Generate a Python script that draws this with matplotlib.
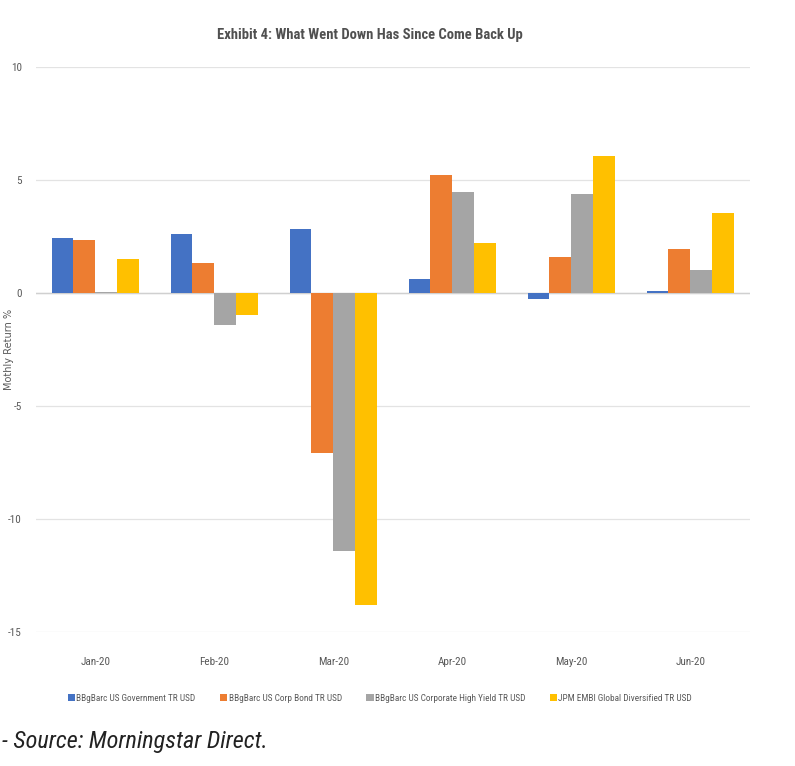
import matplotlib
matplotlib.use('Agg')
import matplotlib.pyplot as plt
import numpy as np

plt.rcParams['font.family'] = ['Roboto Condensed', 'DejaVu Sans']

months = ['Jan-20', 'Feb-20', 'Mar-20', 'Apr-20', 'May-20', 'Jun-20']
series_names = ['BBgBarc US Government TR USD',
                'BBgBarc US Corp Bond TR USD',
                'BBgBarc US Corporate High Yield TR USD',
                'JPM EMBI Global Diversified TR USD']
gov = [2.43, 2.62, 2.83, 0.62, -0.27, 0.09]
corp = [2.35, 1.33, -7.08, 5.22, 1.59, 1.95]
high_yield = [0.05, -1.42, -11.40, 4.47, 4.38, 1.02]
embi = [1.50, -0.97, -13.80, 2.21, 6.06, 3.54]
colors = ['#4472C4', '#ED7D31', '#A5A5A5', '#FFC000']
yticks = [10, 5, 0, -5, -10, -15]

fig = plt.figure(figsize=(7.95, 7.66), dpi=100)
ax = fig.add_axes([0.045, 0.175, 0.898, 0.7375])

x = np.arange(len(months))
w = 0.183
for i, vals in enumerate([gov, corp, high_yield, embi]):
    ax.bar(x + (i - 1.5) * w, vals, width=w, color=colors[i],
           label=series_names[i], zorder=3)

ax.set_xlim(-0.5, len(months) - 0.5)
ax.set_ylim(-15, 10)
ax.set_yticks(yticks)
ax.set_yticklabels([str(t) for t in yticks], fontsize=8, color='#595959')
ax.set_xticks(x)
ax.set_xticklabels(months, fontsize=8, color='#595959')
ax.tick_params(axis='both', length=0)
ax.tick_params(axis='x', pad=18)
ax.tick_params(axis='y', pad=10)
ax.grid(axis='y', color='#E3E3E3', linewidth=0.9, zorder=0)
ax.axhline(0, color='#D0D0D0', linewidth=1.0, zorder=2)
for s in ax.spines.values():
    s.set_visible(False)

ax.set_ylabel('Mothly Return %', fontsize=7, color='#595959',
              family=['DejaVu Sans'])
ax.yaxis.set_label_coords(-0.03, 0.5)

fig.text(0.465, 0.954, 'Exhibit 4: What Went Down Has Since Come Back Up',
         ha='center', va='center', fontsize=10.5, fontweight='bold', color='#505050')

leg = ax.legend(loc='upper center', bbox_to_anchor=(0.482, -0.095), ncol=4,
                frameon=False, fontsize=6.7, handlelength=0.8, handleheight=0.8,
                handletextpad=0.15, columnspacing=2.6)
for t in leg.get_texts():
    t.set_color('#595959')

fig.text(0.003, 0.032, '- Source: Morningstar Direct.', ha='left', va='center',
         fontsize=17.5, style='italic', color='#222222')

fig.savefig('out.png', dpi=100)
